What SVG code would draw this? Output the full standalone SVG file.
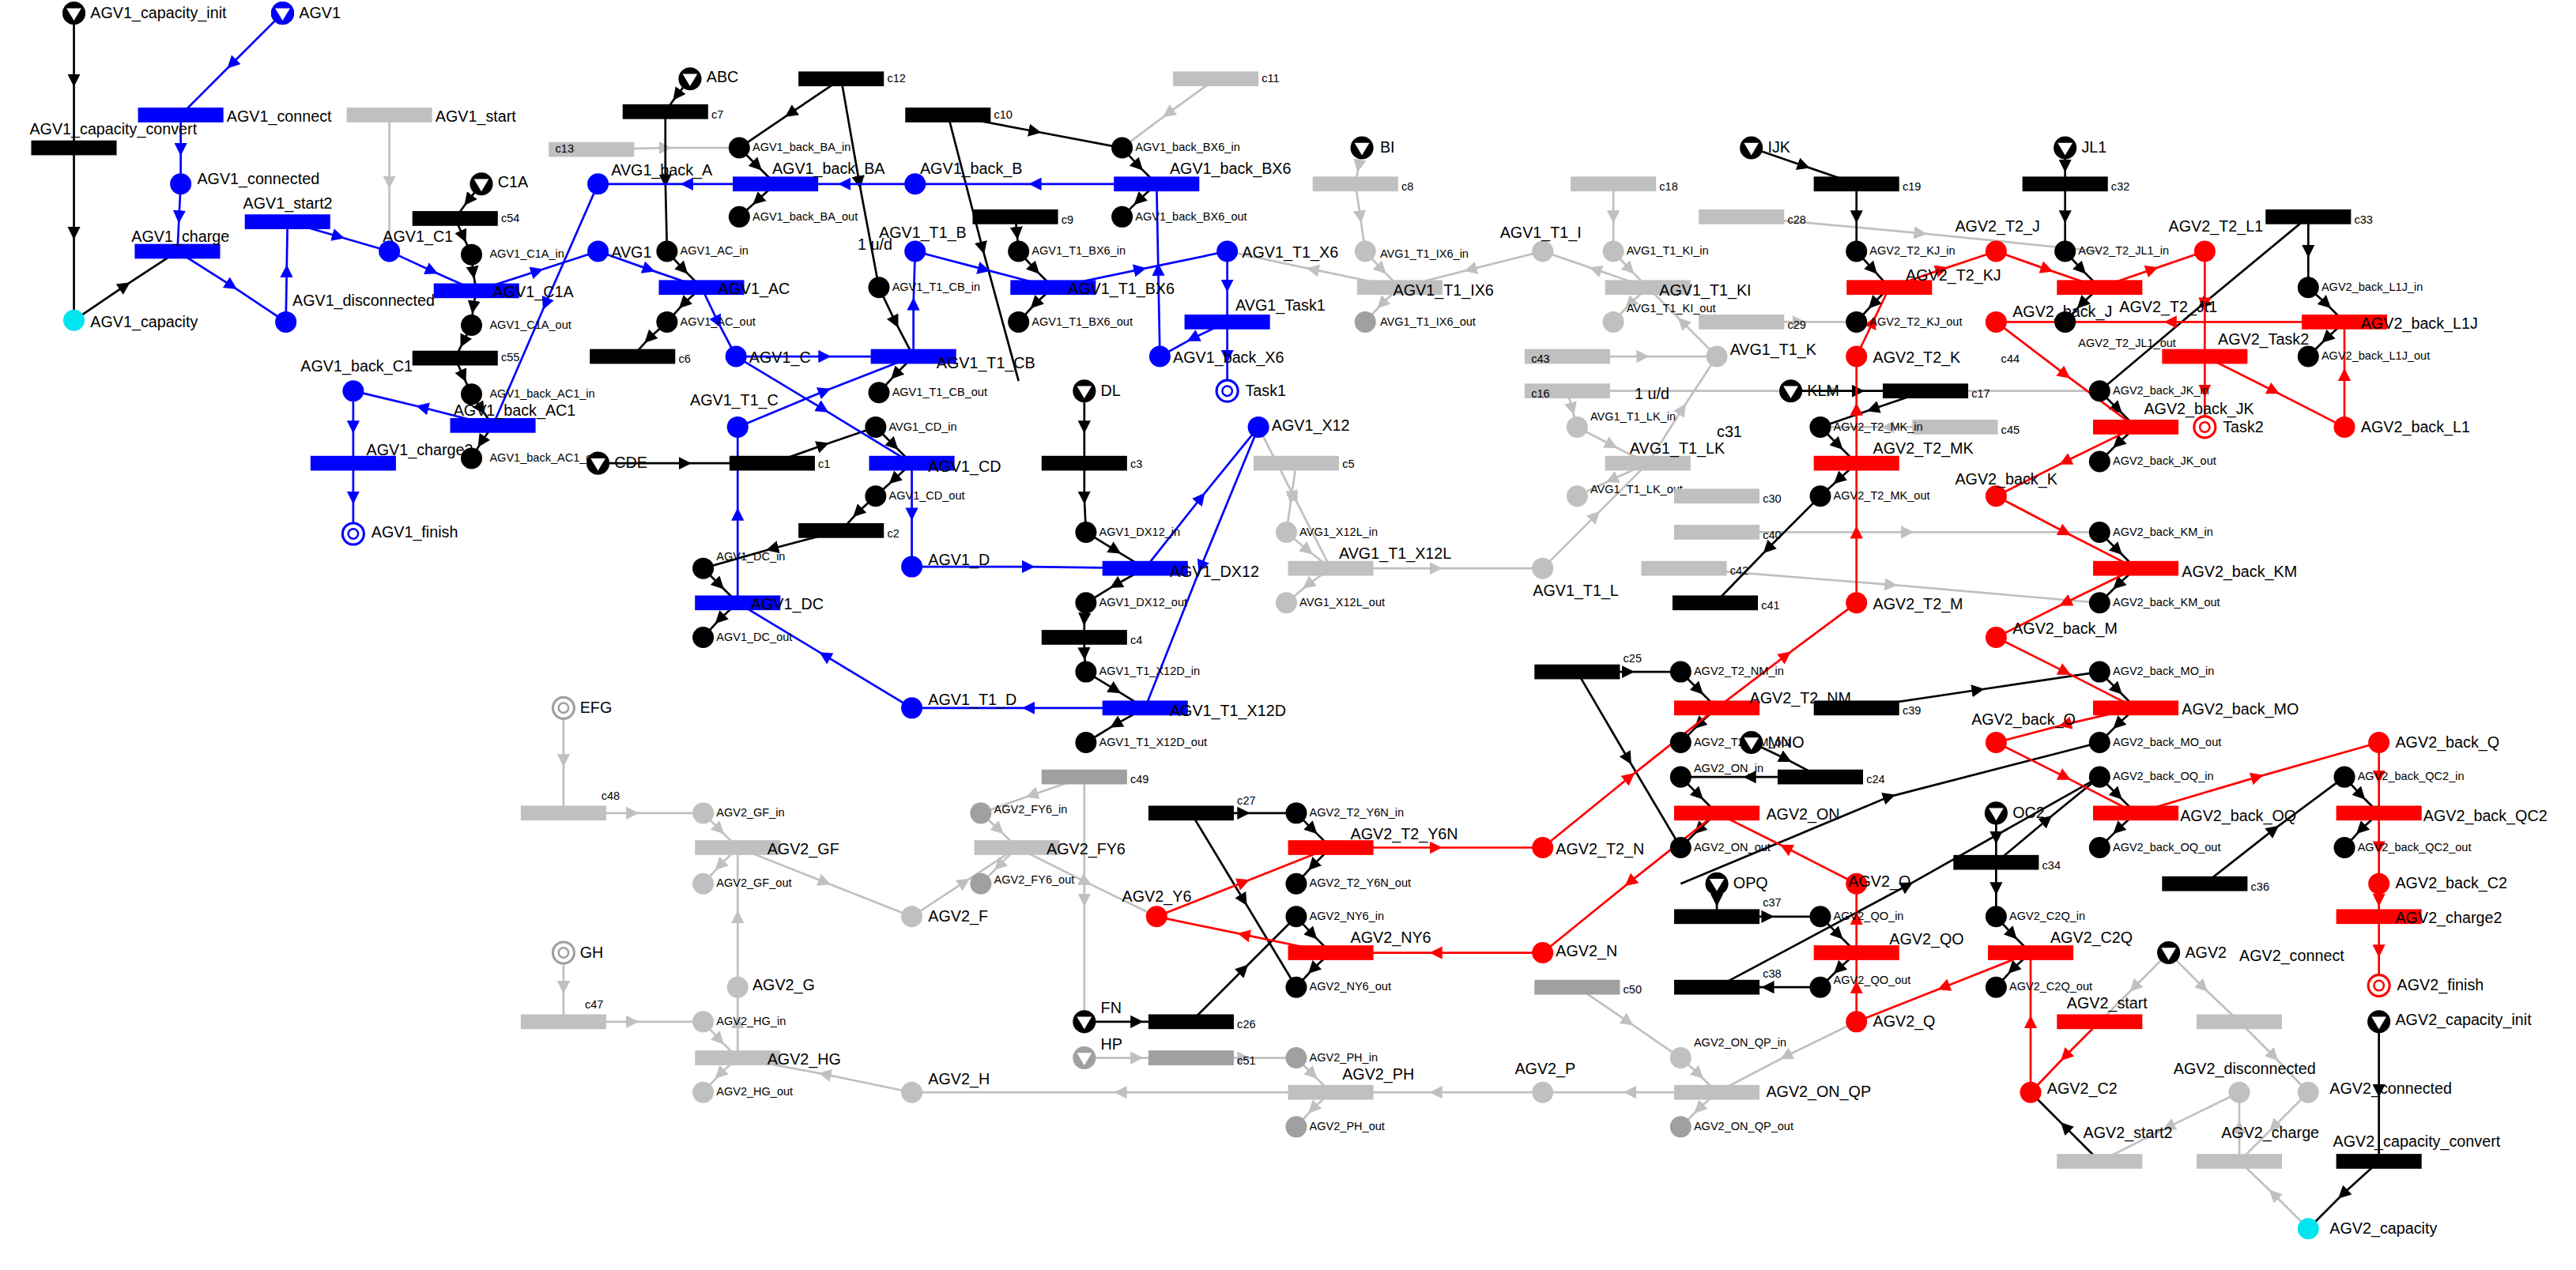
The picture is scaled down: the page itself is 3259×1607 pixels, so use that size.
<svg xmlns="http://www.w3.org/2000/svg" xmlns:xlink="http://www.w3.org/1999/xlink" width="3259" height="1607" viewBox="0 0 3259 1607">
<style>
text{font-family:"Liberation Sans",Arial,sans-serif;font-size:9.5px;fill:#000}
text.s{font-size:7px}
.tb{fill:#0000ff}.tr{fill:#ff0000}.tk{fill:#000}.tg{fill:#c0c0c0}.td{fill:#a0a0a0}.tc{fill:#00e5ee}
.cb path{stroke:#0000ff;marker-mid:url(#ab)}
.cr path{stroke:#ff0000;marker-mid:url(#ar)}
.ck path{stroke:#000;marker-mid:url(#ak)}
.cg path{stroke:#c0c0c0;marker-mid:url(#ag)}
#conn path{fill:none;stroke-width:1.3}
</style>
<defs>
<marker id="ab" viewBox="0 0 10 10" refX="5" refY="5" markerWidth="6" markerHeight="6" orient="auto"><path d="M0,0L10,5L0,10z" fill="#0000ff"/></marker>
<marker id="ar" viewBox="0 0 10 10" refX="5" refY="5" markerWidth="6" markerHeight="6" orient="auto"><path d="M0,0L10,5L0,10z" fill="#ff0000"/></marker>
<marker id="ak" viewBox="0 0 10 10" refX="5" refY="5" markerWidth="6" markerHeight="6" orient="auto"><path d="M0,0L10,5L0,10z" fill="#000"/></marker>
<marker id="ag" viewBox="0 0 10 10" refX="5" refY="5" markerWidth="6" markerHeight="6" orient="auto"><path d="M0,0L10,5L0,10z" fill="#c0c0c0"/></marker>
<circle id="P" r="6.5"/>
<rect id="T" x="-26" y="-4.5" width="52" height="9"/>
<g id="S"><circle r="7" fill="#000"/><path d="M-4.5,-3L4.5,-3L0,4.5z" fill="#fff"/></g>
<g id="SG"><circle r="7" fill="#a0a0a0"/><path d="M-4.5,-3L4.5,-3L0,4.5z" fill="#fff"/></g>
<g id="F"><circle r="6.5" fill="#fff" stroke-width="1.5"/><circle r="3" fill="#fff" stroke-width="1.2"/></g>
</defs>
<rect width="3259" height="1607" fill="#fff"/>
<g transform="scale(2.0785)">
<g id="conn">
<g class="cg">
<path d="M237,70L237,111L237,153"/><path d="M740,48L711,69L683,90"/><path d="M829,90L827,101L825,112"/><path d="M825,112L828,132L831,153"/>
<path d="M831,153L841,164L852,175"/><path d="M852,175L841,185L831,196"/><path d="M939,153L895,164L852,175"/><path d="M852,175L799,164L747,153"/>
<path d="M1045,217L1024,196L1003,175"/><path d="M1003,175L971,164L939,153"/><path d="M982,112L982,132L982,153"/><path d="M982,153L992,164L1003,175"/><path d="M1003,175L992,185L982,196"/>
<path d="M939,346L971,314L1003,282"/><path d="M1003,282L1024,249L1045,217"/><path d="M954,238L957,249L960,260"/><path d="M960,260L981,271L1003,282"/><path d="M1003,282L981,292L960,302"/>
<path d="M766,260L788,303L810,346"/><path d="M810,346L874,346L939,346"/><path d="M789,282L786,303L783,324"/><path d="M783,324L796,335L810,346"/><path d="M810,346L796,356L783,367"/>
<path d="M1045,324L1161,324L1278,324"/><path d="M1025,346L1151,356L1278,367"/><path d="M954,238L1116,238L1278,238"/><path d="M1060,132L1169,142L1278,153"/><path d="M1060,196L1095,196L1130,196"/><path d="M954,217L1000,217L1045,217"/><path d="M1190,260L1149,260L1108,260"/><path d="M360,91L405,90L450,90"/>
<path d="M343,431L343,463L343,495"/><path d="M343,495L385,495L428,495"/><path d="M428,495L438,505L449,516"/><path d="M449,516L438,527L428,538"/>
<path d="M343,580L343,601L343,622"/><path d="M343,622L385,622L428,622"/><path d="M428,622L438,633L449,644"/><path d="M449,644L438,654L428,665"/>
<path d="M449,601L449,558L449,516"/><path d="M449,516L502,537L555,558"/><path d="M555,558L587,537L619,516"/><path d="M619,516L661,537L704,558"/><path d="M555,665L502,654L449,644"/><path d="M449,644L449,622L449,601"/>
<path d="M810,665L682,665L555,665"/><path d="M939,665L874,665L810,665"/><path d="M1045,665L992,665L939,665"/><path d="M1130,622L1087,643L1045,665"/>
<path d="M660,473L628,484L597,495"/><path d="M597,495L608,505L619,516"/><path d="M619,516L608,527L597,538"/><path d="M660,473L660,548L660,622"/>
<path d="M660,644L692,644L725,644"/><path d="M725,644L757,644L789,644"/><path d="M789,644L799,654L810,665"/><path d="M810,665L799,675L789,686"/>
<path d="M960,601L991,622L1023,644"/><path d="M1023,644L1034,654L1045,665"/><path d="M1045,665L1034,675L1023,686"/>
<path d="M1320,580L1341,601L1363,622"/><path d="M1363,622L1384,643L1405,665"/><path d="M1405,665L1384,686L1363,707"/><path d="M1363,707L1363,686L1363,665"/><path d="M1363,665L1320,686L1278,707"/><path d="M1405,748L1384,727L1363,707"/><path d="M1320,580L1299,601L1278,622"/>
</g>
<g class="ck">
<path d="M45,8L45,49L45,90"/><path d="M45,90L45,142L45,195"/><path d="M45,195L76,174L108,153"/>
<path d="M293,112L285,122L277,133"/><path d="M277,133L282,144L287,155"/><path d="M287,155L288,166L290,177"/><path d="M290,177L288,187L287,198"/><path d="M287,198L282,208L277,218"/><path d="M277,218L282,229L287,240"/><path d="M287,240L293,249L300,259"/><path d="M300,259L293,269L287,279"/>
<path d="M420,48L412,58L405,68"/><path d="M405,68L405,110L406,153"/><path d="M406,153L416,164L427,175"/><path d="M427,175L416,185L406,196"/><path d="M406,196L395,206L385,217"/>
<path d="M512,48L481,69L450,90"/><path d="M450,90L461,101L472,112"/><path d="M472,112L461,122L450,132"/><path d="M512,48L523,111L535,175"/>
<path d="M577,70L630,80L683,90"/><path d="M683,90L693,101L704,112"/><path d="M704,112L693,122L683,132"/><path d="M577,70L598,151L620,232"/><path d="M618,132L619,142L620,153"/><path d="M620,153L630,164L641,175"/><path d="M641,175L630,185L620,196"/>
<path d="M535,175L545,196L556,217"/><path d="M556,217L545,228L535,239"/>
<path d="M364,282L417,282L470,282"/><path d="M470,282L501,271L533,260"/><path d="M533,260L544,271L555,282"/><path d="M555,282L544,292L533,302"/><path d="M533,302L522,312L512,323"/><path d="M512,323L470,334L428,346"/><path d="M428,346L438,356L449,367"/><path d="M449,367L438,377L428,388"/>
<path d="M660,238L660,260L660,282"/><path d="M660,282L660,303L661,324"/><path d="M661,324L679,335L697,346"/><path d="M697,346L679,356L661,367"/><path d="M661,367L660,377L660,388"/><path d="M660,388L660,398L661,409"/><path d="M661,409L679,420L697,431"/><path d="M697,431L679,441L661,452"/>
<path d="M1066,90L1098,101L1130,112"/><path d="M1130,112L1130,132L1130,153"/><path d="M1130,153L1140,164L1150,175"/><path d="M1150,175L1140,185L1130,196"/>
<path d="M1257,90L1257,101L1257,112"/><path d="M1257,112L1257,132L1257,153"/><path d="M1257,153L1267,164L1278,175"/><path d="M1278,175L1267,185L1257,196"/>
<path d="M1405,132L1405,153L1405,175"/><path d="M1405,175L1416,185L1427,196"/><path d="M1427,196L1416,206L1405,217"/><path d="M1405,132L1341,185L1278,238"/>
<path d="M1090,238L1131,238L1172,238"/><path d="M1172,238L1140,249L1108,260"/><path d="M1108,260L1119,271L1130,282"/><path d="M1130,282L1119,292L1108,302"/><path d="M1108,302L1076,334L1044,367"/>
<path d="M960,409L991,409L1023,409"/><path d="M1023,409L1034,420L1045,431"/><path d="M1045,431L1034,441L1023,452"/><path d="M960,409L991,462L1023,516"/>
<path d="M1066,452L1087,462L1108,473"/><path d="M1108,473L1065,473L1023,473"/><path d="M1023,473L1034,484L1045,495"/><path d="M1045,495L1034,505L1023,516"/>
<path d="M1130,431L1204,420L1278,409"/><path d="M1278,409L1289,420L1300,431"/><path d="M1300,431L1289,441L1278,452"/>
<path d="M1278,324L1289,335L1300,346"/><path d="M1300,346L1289,356L1278,367"/><path d="M1278,238L1289,249L1300,260"/><path d="M1300,260L1289,270L1278,281"/>
<path d="M1278,473L1289,484L1300,495"/><path d="M1300,495L1289,505L1278,516"/><path d="M1427,473L1437,484L1448,495"/><path d="M1448,495L1437,505L1427,516"/>
<path d="M1215,495L1215,510L1215,525"/><path d="M1215,525L1215,541L1215,558"/><path d="M1215,558L1225,569L1236,580"/><path d="M1236,580L1225,590L1215,601"/>
<path d="M1045,538L1045,548L1045,558"/><path d="M1045,558L1076,558L1108,558"/><path d="M1108,558L1119,569L1130,580"/><path d="M1130,580L1119,590L1108,601"/><path d="M1108,601L1076,601L1045,601"/>
<path d="M1342,538L1384,505L1427,473"/><path d="M1215,525L1246,499L1278,473"/><path d="M1045,601L1161,539L1278,473"/><path d="M1023,538L1150,485L1278,452"/>
<path d="M1448,622L1448,664L1448,707"/><path d="M1448,707L1426,727L1405,748"/><path d="M1278,707L1257,686L1236,665"/>
<path d="M725,495L757,495L789,495"/><path d="M789,495L799,505L810,516"/><path d="M810,516L799,527L789,538"/><path d="M725,495L757,548L789,601"/>
<path d="M660,622L692,622L725,622"/><path d="M725,622L757,590L789,558"/><path d="M789,558L799,569L810,580"/><path d="M810,580L799,590L789,601"/>
</g>
<g class="cb">
<path d="M172,8L141,39L110,70"/><path d="M110,70L110,91L110,112"/><path d="M110,112L109,132L108,153"/><path d="M108,153L141,174L174,196"/><path d="M174,196L174.5,165L175,135"/><path d="M175,135L206,144L237,153"/><path d="M237,153L263,165L290,177"/><path d="M290,177L327,165L364,153"/><path d="M364,112L332,185L300,259"/><path d="M300,259L257,248L215,238"/><path d="M215,238L215,260L215,282"/><path d="M215,282L215,303L215,325"/>
<path d="M364,153L395,164L427,175"/><path d="M427,175L437,196L448,217"/><path d="M448,217L502,217L556,217"/><path d="M556,217L556,185L557,153"/><path d="M557,153L599,164L641,175"/><path d="M641,175L694,164L747,153"/><path d="M747,153L747,174L747,196"/><path d="M747,196L747,217L747,238"/><path d="M747,196L726,206L706,217"/>
<path d="M706,217L705,164L704,112"/><path d="M704,112L630,112L557,112"/><path d="M557,112L514,112L472,112"/><path d="M472,112L418,112L364,112"/>
<path d="M448,217L501,249L555,282"/><path d="M555,282L555,313L555,345"/><path d="M555,345L626,345L697,346"/><path d="M697,346L731,303L766,260"/><path d="M766,260L731,345L697,431"/><path d="M697,431L626,431L555,431"/><path d="M555,431L502,399L449,367"/><path d="M449,367L449,313L449,260"/><path d="M449,260L502,238L556,217"/>
</g>
<g class="cr">
<path d="M1150,175L1182,164L1215,153"/><path d="M1215,153L1246,164L1278,175"/><path d="M1278,175L1310,164L1342,153"/><path d="M1342,153L1342,185L1342,217"/><path d="M1342,217L1342,238L1342,260"/><path d="M1342,217L1384,238L1427,260"/>
<path d="M1427,260L1427,228L1427,196"/><path d="M1427,196L1321,196L1215,196"/><path d="M1215,196L1257,228L1300,260"/><path d="M1300,260L1257,281L1215,302"/><path d="M1215,302L1257,324L1300,346"/><path d="M1300,346L1257,367L1215,388"/><path d="M1215,388L1257,409L1300,431"/><path d="M1300,431L1257,441L1215,452"/><path d="M1215,452L1257,473L1300,495"/><path d="M1300,495L1374,473L1448,452"/><path d="M1448,452L1448,473L1448,495"/><path d="M1448,495L1448,516L1448,538"/><path d="M1448,538L1448,548L1448,558"/><path d="M1448,558L1448,579L1448,600"/>
<path d="M1130,217L1140,196L1150,175"/><path d="M1130,282L1130,249L1130,217"/><path d="M1130,367L1130,324L1130,282"/><path d="M1045,431L1087,399L1130,367"/><path d="M939,516L992,473L1045,431"/><path d="M810,516L874,516L939,516"/><path d="M704,558L757,537L810,516"/><path d="M810,580L757,569L704,558"/><path d="M939,580L874,580L810,580"/><path d="M1045,495L992,537L939,580"/><path d="M1130,538L1087,516L1045,495"/>
<path d="M1130,622L1130,601L1130,580"/><path d="M1130,580L1130,559L1130,538"/><path d="M1236,580L1183,601L1130,622"/><path d="M1236,665L1236,622L1236,580"/><path d="M1278,622L1257,643L1236,665"/>
</g>
</g>

<g id="AGV1_capacity_init"><use href="#S" x="45" y="8"/><text x="55" y="11">AGV1_capacity_init</text></g>
<g id="AGV1"><use href="#S" x="172" y="8" fill="#00f"/><circle cx="172" cy="8" r="7" fill="#00f"/><path d="M167.5,5L176.5,5L172,12.5z" fill="#fff"/><text x="182" y="11">AGV1</text></g>
<g id="AGV1_capacity_convert"><use href="#T" x="45" y="90" class="tk"/><text x="18" y="82">AGV1_capacity_convert</text></g>
<g id="AGV1_capacity"><use href="#P" x="45" y="195" class="tc"/><text x="55" y="199">AGV1_capacity</text></g>
<g id="AGV1_connect"><use href="#T" x="110" y="70" class="tb"/><text x="138" y="74">AGV1_connect</text></g>
<g id="AGV1_start"><use href="#T" x="237" y="70" class="tg"/><text x="265" y="74">AGV1_start</text></g>
<g id="AGV1_connected"><use href="#P" x="110" y="112" class="tb"/><text x="120" y="112">AGV1_connected</text></g>
<g id="AGV1_charge"><use href="#T" x="108" y="153" class="tb"/><text x="80" y="147">AGV1_charge</text></g>
<g id="AGV1_start2"><use href="#T" x="175" y="135" class="tb"/><text x="148" y="127">AGV1_start2</text></g>
<g id="AGV1_disconnected"><use href="#P" x="174" y="196" class="tb"/><text x="178" y="186">AGV1_disconnected</text></g>
<g id="AGV1_C1"><use href="#P" x="237" y="153" class="tb"/><text x="233" y="147">AGV1_C1</text></g>
<g id="C1A"><use href="#S" x="293" y="112"/><text x="303" y="114">C1A</text></g>
<g id="c54"><use href="#T" x="277" y="133" class="tk"/><text x="305" y="135" class="s">c54</text></g>
<g id="AGV1_C1A_in"><use href="#P" x="287" y="155" class="tk"/><text x="298" y="157" class="s">AGV1_C1A_in</text></g>
<g id="AGV1_C1A"><use href="#T" x="290" y="177" class="tb"/><text x="300" y="181">AGV1_C1A</text></g>
<g id="AGV1_C1A_out"><use href="#P" x="287" y="198" class="tk"/><text x="298" y="200" class="s">AGV1_C1A_out</text></g>
<g id="c55"><use href="#T" x="277" y="218" class="tk"/><text x="305" y="220" class="s">c55</text></g>
<g id="AGV1_back_AC1_in"><use href="#P" x="287" y="240" class="tk"/><text x="298" y="242" class="s">AGV1_back_AC1_in</text></g>
<g id="AGV1_back_AC1"><use href="#T" x="300" y="259" class="tb"/><text x="276" y="253">AGV1_back_AC1</text></g>
<g id="AGV1_back_AC1_out"><use href="#P" x="287" y="279" class="tk"/><text x="298" y="281" class="s">AGV1_back_AC1_out</text></g>
<g id="AGV1_back_C1"><use href="#P" x="215" y="238" class="tb"/><text x="183" y="226">AGV1_back_C1</text></g>
<g id="AGV1_charge2"><use href="#T" x="215" y="282" class="tb"/><text x="223" y="277">AGV1_charge2</text></g>
<g id="AGV1_finish"><use href="#F" x="215" y="325" stroke="#00f"/><text x="226" y="327">AGV1_finish</text></g>
<g id="AGV1_back_A"><use href="#P" x="364" y="112" class="tb"/><text x="372" y="107">AVG1_back_A</text></g>
<g id="ABC"><use href="#S" x="420" y="48"/><text x="430" y="50">ABC</text></g>
<g id="c7"><use href="#T" x="405" y="68" class="tk"/><text x="433" y="72" class="s">c7</text></g>
<g id="c13"><use href="#T" x="360" y="91" class="tg"/><text x="338" y="93" class="s">c13</text></g>
<g id="AGV1_back_BA_in"><use href="#P" x="450" y="90" class="tk"/><text x="458" y="92" class="s">AGV1_back_BA_in</text></g>
<g id="AGV1_back_BA"><use href="#T" x="472" y="112" class="tb"/><text x="470" y="106">AGV1_back_BA</text></g>
<g id="AGV1_back_BA_out"><use href="#P" x="450" y="132" class="tk"/><text x="458" y="134" class="s">AGV1_back_BA_out</text></g>
<g id="c12"><use href="#T" x="512" y="48" class="tk"/><text x="540" y="50" class="s">c12</text></g>
<g id="AGV1_A"><use href="#P" x="364" y="153" class="tb"/><text x="372" y="157">AVG1</text></g>
<g id="AGV1_AC_in"><use href="#P" x="406" y="153" class="tk"/><text x="414" y="155" class="s">AGV1_AC_in</text></g>
<g id="AGV1_AC"><use href="#T" x="427" y="175" class="tb"/><text x="437" y="179">AGV1_AC</text></g>
<g id="AGV1_AC_out"><use href="#P" x="406" y="196" class="tk"/><text x="414" y="198" class="s">AGV1_AC_out</text></g>
<g id="c6"><use href="#T" x="385" y="217" class="tk"/><text x="413" y="221" class="s">c6</text></g>
<g id="AGV1_C"><use href="#P" x="448" y="217" class="tb"/><text x="456" y="221">AGV1_C</text></g>
<g id="AGV1_T1_C"><use href="#P" x="449" y="260" class="tb"/><text x="420" y="247">AGV1_T1_C</text></g>
<g id="c10"><use href="#T" x="577" y="70" class="tk"/><text x="605" y="72" class="s">c10</text></g>
<g id="AGV1_back_B"><use href="#P" x="557" y="112" class="tb"/><text x="560" y="106">AGV1_back_B</text></g>
<g id="c9"><use href="#T" x="618" y="132" class="tk"/><text x="646" y="136" class="s">c9</text></g>
<g id="c11"><use href="#T" x="740" y="48" class="tg"/><text x="768" y="50" class="s">c11</text></g>
<g id="AGV1_back_BX6_in"><use href="#P" x="683" y="90" class="tk"/><text x="691" y="92" class="s">AGV1_back_BX6_in</text></g>
<g id="AGV1_back_BX6"><use href="#T" x="704" y="112" class="tb"/><text x="712" y="106">AGV1_back_BX6</text></g>
<g id="AGV1_back_BX6_out"><use href="#P" x="683" y="132" class="tk"/><text x="691" y="134" class="s">AGV1_back_BX6_out</text></g>
<g id="BI"><use href="#S" x="829" y="90"/><text x="840" y="93">BI</text></g>
<g id="c8"><use href="#T" x="825" y="112" class="tg"/><text x="853" y="116" class="s">c8</text></g>
<g id="AGV1_T1_B"><use href="#P" x="557" y="153" class="tb"/><text x="535" y="145">AGV1_T1_B</text><text x="522" y="152">1 u/d</text></g>
<g id="AGV1_T1_CB_in"><use href="#P" x="535" y="175" class="tk"/><text x="543" y="177" class="s">AGV1_T1_CB_in</text></g>
<g id="AGV1_T1_CB"><use href="#T" x="556" y="217" class="tb"/><text x="570" y="224">AGV1_T1_CB</text></g>
<g id="AGV1_T1_CB_out"><use href="#P" x="535" y="239" class="tk"/><text x="543" y="241" class="s">AGV1_T1_CB_out</text></g>
<g id="AGV1_T1_BX6_in"><use href="#P" x="620" y="153" class="tk"/><text x="628" y="155" class="s">AGV1_T1_BX6_in</text></g>
<g id="AGV1_T1_BX6"><use href="#T" x="641" y="175" class="tb"/><text x="650" y="179">AGV1_T1_BX6</text></g>
<g id="AGV1_T1_BX6_out"><use href="#P" x="620" y="196" class="tk"/><text x="628" y="198" class="s">AGV1_T1_BX6_out</text></g>
<g id="AGV1_T1_X6"><use href="#P" x="747" y="153" class="tb"/><text x="756" y="157">AGV1_T1_X6</text></g>
<g id="AGV1_Task1"><use href="#T" x="747" y="196" class="tb"/><text x="752" y="189">AVG1_Task1</text></g>
<g id="AGV1_back_X6"><use href="#P" x="706" y="217" class="tb"/><text x="714" y="221">AGV1_back_X6</text></g>
<g id="Task1"><use href="#F" x="747" y="238" stroke="#00f"/><text x="758" y="241">Task1</text></g>
<g id="AGV1_CD_in"><use href="#P" x="533" y="260" class="tk"/><text x="541" y="262" class="s">AVG1_CD_in</text></g>
<g id="AGV1_CD"><use href="#T" x="555" y="282" class="tb"/><text x="565" y="287">AGV1_CD</text></g>
<g id="AGV1_CD_out"><use href="#P" x="533" y="302" class="tk"/><text x="541" y="304" class="s">AGV1_CD_out</text></g>
<g id="CDE"><use href="#S" x="364" y="282"/><text x="374" y="285">CDE</text></g>
<g id="c1"><use href="#T" x="470" y="282" class="tk"/><text x="498" y="285" class="s">c1</text></g>
<g id="c2"><use href="#T" x="512" y="323" class="tk"/><text x="540" y="327" class="s">c2</text></g>
<g id="AGV1_DC_in"><use href="#P" x="428" y="346" class="tk"/><text x="436" y="341" class="s">AGV1_DC_in</text></g>
<g id="AGV1_DC"><use href="#T" x="449" y="367" class="tb"/><text x="457" y="371">AGV1_DC</text></g>
<g id="AGV1_DC_out"><use href="#P" x="428" y="388" class="tk"/><text x="436" y="390" class="s">AGV1_DC_out</text></g>
<g id="DL"><use href="#S" x="660" y="238"/><text x="670" y="241">DL</text></g>
<g id="c3"><use href="#T" x="660" y="282" class="tk"/><text x="688" y="285" class="s">c3</text></g>
<g id="AGV1_DX12_in"><use href="#P" x="661" y="324" class="tk"/><text x="669" y="326" class="s">AGV1_DX12_in</text></g>
<g id="AGV1_DX12"><use href="#T" x="697" y="346" class="tb"/><text x="712" y="351">AGV1_DX12</text></g>
<g id="AGV1_DX12_out"><use href="#P" x="661" y="367" class="tk"/><text x="669" y="369" class="s">AGV1_DX12_out</text></g>
<g id="AGV1_D"><use href="#P" x="555" y="345" class="tb"/><text x="565" y="344">AGV1_D</text></g>
<g id="c4"><use href="#T" x="660" y="388" class="tk"/><text x="688" y="392" class="s">c4</text></g>
<g id="AGV1_T1_X12D_in"><use href="#P" x="661" y="409" class="tk"/><text x="669" y="411" class="s">AGV1_T1_X12D_in</text></g>
<g id="AGV1_T1_X12D"><use href="#T" x="697" y="431" class="tb"/><text x="712" y="436">AGV1_T1_X12D</text></g>
<g id="AGV1_T1_X12D_out"><use href="#P" x="661" y="452" class="tk"/><text x="669" y="454" class="s">AGV1_T1_X12D_out</text></g>
<g id="AGV1_T1_D"><use href="#P" x="555" y="431" class="tb"/><text x="565" y="429">AGV1_T1_D</text></g>
<g id="AGV1_X12"><use href="#P" x="766" y="260" class="tb"/><text x="774" y="262">AGV1_X12</text></g>
<g id="c5"><use href="#T" x="789" y="282" class="tg"/><text x="817" y="285" class="s">c5</text></g>
<g id="AGV1_X12L_in"><use href="#P" x="783" y="324" class="tg"/><text x="791" y="326" class="s">AVG1_X12L_in</text></g>
<g id="AGV1_T1_X12L"><use href="#T" x="810" y="346" class="tg"/><text x="815" y="340">AVG1_T1_X12L</text></g>
<g id="AGV1_X12L_out"><use href="#P" x="783" y="367" class="tg"/><text x="791" y="369" class="s">AVG1_X12L_out</text></g>
<g id="AGV1_T1_L"><use href="#P" x="939" y="346" class="tg"/><text x="933" y="363">AGV1_T1_L</text></g>
<g id="AGV1_T1_IX6_in"><use href="#P" x="831" y="153" class="tg"/><text x="840" y="157" class="s">AVG1_T1_IX6_in</text></g>
<g id="AGV1_T1_IX6"><use href="#T" x="852" y="175" class="tg"/><text x="848" y="180">AGV1_T1_IX6</text></g>
<g id="AGV1_T1_IX6_out"><use href="#P" x="831" y="196" class="td"/><text x="840" y="198" class="s">AVG1_T1_IX6_out</text></g>
<g id="AGV1_T1_I"><use href="#P" x="939" y="153" class="tg"/><text x="913" y="145">AGV1_T1_I</text></g>
<g id="c18"><use href="#T" x="982" y="112" class="tg"/><text x="1010" y="116" class="s">c18</text></g>
<g id="IJK"><use href="#S" x="1066" y="90"/><text x="1076" y="93">IJK</text></g>
<g id="c19"><use href="#T" x="1130" y="112" class="tk"/><text x="1158" y="116" class="s">c19</text></g>
<g id="c28"><use href="#T" x="1060" y="132" class="tg"/><text x="1088" y="136" class="s">c28</text></g>
<g id="AGV1_T1_KI_in"><use href="#P" x="982" y="153" class="tg"/><text x="990" y="155" class="s">AVG1_T1_KI_in</text></g>
<g id="AGV1_T1_KI"><use href="#T" x="1003" y="175" class="tg"/><text x="1010" y="180">AGV1_T1_KI</text></g>
<g id="AGV1_T1_KI_out"><use href="#P" x="982" y="196" class="tg"/><text x="990" y="190" class="s">AVG1_T1_KI_out</text></g>
<g id="c29"><use href="#T" x="1060" y="196" class="tg"/><text x="1088" y="200" class="s">c29</text></g>
<g id="c43"><use href="#T" x="954" y="217" class="tg"/><text x="932" y="221" class="s">c43</text></g>
<g id="AGV1_T1_K"><use href="#P" x="1045" y="217" class="tg"/><text x="1053" y="216">AVG1_T1_K</text></g>
<g id="c16"><use href="#T" x="954" y="238" class="tg"/><text x="932" y="242" class="s">c16</text><text x="995" y="243">1 u/d</text></g>
<g id="AGV1_T1_LK_in"><use href="#P" x="960" y="260" class="tg"/><text x="968" y="256" class="s">AVG1_T1_LK_in</text></g>
<g id="AGV1_T1_LK"><use href="#T" x="1003" y="282" class="tg"/><text x="992" y="276">AVG1_T1_LK</text></g>
<g id="AGV1_T1_LK_out"><use href="#P" x="960" y="302" class="tg"/><text x="968" y="300" class="s">AVG1_T1_LK_out</text></g>
<g id="c31"><text x="1045" y="266">c31</text></g>
<g id="c30"><use href="#T" x="1045" y="302" class="tg"/><text x="1073" y="306" class="s">c30</text></g>
<g id="c40"><use href="#T" x="1045" y="324" class="tg"/><text x="1073" y="328" class="s">c40</text></g>
<g id="c42"><use href="#T" x="1025" y="346" class="tg"/><text x="1053" y="350" class="s">c42</text></g>
<g id="KLM"><use href="#S" x="1090" y="238"/><text x="1100" y="241">KLM</text></g>
<g id="c17"><use href="#T" x="1172" y="238" class="tk"/><text x="1200" y="242" class="s">c17</text></g>
<g id="c41"><use href="#T" x="1044" y="367" class="tk"/><text x="1072" y="371" class="s">c41</text></g>
<g id="c45"><use href="#T" x="1190" y="260" class="tg"/><text x="1218" y="264" class="s">c45</text></g>
<g id="AGV2_T2_KJ_in"><use href="#P" x="1130" y="153" class="tk"/><text x="1138" y="155" class="s">AGV2_T2_KJ_in</text></g>
<g id="AGV2_T2_KJ"><use href="#T" x="1150" y="175" class="tr"/><text x="1160" y="171">AGV2_T2_KJ</text></g>
<g id="AGV2_T2_KJ_out"><use href="#P" x="1130" y="196" class="tk"/><text x="1138" y="198" class="s">AGV2_T2_KJ_out</text></g>
<g id="AGV2_T2_J"><use href="#P" x="1215" y="153" class="tr"/><text x="1190" y="141">AGV2_T2_J</text></g>
<g id="JL1"><use href="#S" x="1257" y="90"/><text x="1267" y="93">JL1</text></g>
<g id="c32"><use href="#T" x="1257" y="112" class="tk"/><text x="1285" y="116" class="s">c32</text></g>
<g id="AGV2_T2_JL1_in"><use href="#P" x="1257" y="153" class="tk"/><text x="1265" y="155" class="s">AGV2_T2_JL1_in</text></g>
<g id="AGV2_T2_JL1"><use href="#T" x="1278" y="175" class="tr"/><text x="1290" y="190">AGV2_T2_Jt1</text></g>
<g id="AGV2_T2_JL1_out"><use href="#P" x="1257" y="196" class="tk"/><text x="1265" y="211" class="s">AGV2_T2_JL1_out</text></g>
<g id="AGV2_T2_L1"><use href="#P" x="1342" y="153" class="tr"/><text x="1320" y="141">AGV2_T2_L1</text></g>
<g id="c33"><use href="#T" x="1405" y="132" class="tk"/><text x="1433" y="136" class="s">c33</text></g>
<g id="AGV2_back_L1J_in"><use href="#P" x="1405" y="175" class="tk"/><text x="1413" y="177" class="s">AGV2_back_L1J_in</text></g>
<g id="AGV2_back_L1J"><use href="#T" x="1427" y="196" class="tr"/><text x="1437" y="200">AGV2_back_L1J</text></g>
<g id="AGV2_back_L1J_out"><use href="#P" x="1405" y="217" class="tk"/><text x="1413" y="219" class="s">AGV2_back_L1J_out</text></g>
<g id="AGV2_back_J"><use href="#P" x="1215" y="196" class="tr"/><text x="1225" y="193">AGV2_back_J</text></g>
<g id="AGV2_Task2"><use href="#T" x="1342" y="217" class="tr"/><text x="1350" y="210">AGV2_Task2</text></g>
<g id="Task2"><use href="#F" x="1342" y="260" stroke="#f00"/><text x="1353" y="263">Task2</text></g>
<g id="AGV2_back_L1"><use href="#P" x="1427" y="260" class="tr"/><text x="1437" y="263">AGV2_back_L1</text></g>
<g id="AGV2_T2_K"><use href="#P" x="1130" y="217" class="tr"/><text x="1140" y="221">AGV2_T2_K</text><text x="1218" y="221" class="s">c44</text></g>
<g id="AGV2_back_JK_in"><use href="#P" x="1278" y="238" class="tk"/><text x="1286" y="240" class="s">AGV2_back_JK_in</text></g>
<g id="AGV2_back_JK"><use href="#T" x="1300" y="260" class="tr"/><text x="1305" y="252">AGV2_back_JK</text></g>
<g id="AGV2_back_JK_out"><use href="#P" x="1278" y="281" class="tk"/><text x="1286" y="283" class="s">AGV2_back_JK_out</text></g>
<g id="AGV2_T2_MK_in"><use href="#P" x="1108" y="260" class="tk"/><text x="1116" y="262" class="s">AGV2_T2_MK_in</text></g>
<g id="AGV2_T2_MK"><use href="#T" x="1130" y="282" class="tr"/><text x="1140" y="276">AGV2_T2_MK</text></g>
<g id="AGV2_T2_MK_out"><use href="#P" x="1108" y="302" class="tk"/><text x="1116" y="304" class="s">AGV2_T2_MK_out</text></g>
<g id="AGV2_back_K"><use href="#P" x="1215" y="302" class="tr"/><text x="1190" y="295">AGV2_back_K</text></g>
<g id="AGV2_back_KM_in"><use href="#P" x="1278" y="324" class="tk"/><text x="1286" y="326" class="s">AGV2_back_KM_in</text></g>
<g id="AGV2_back_KM"><use href="#T" x="1300" y="346" class="tr"/><text x="1328" y="351">AGV2_back_KM</text></g>
<g id="AGV2_back_KM_out"><use href="#P" x="1278" y="367" class="tk"/><text x="1286" y="369" class="s">AGV2_back_KM_out</text></g>
<g id="AGV2_T2_M"><use href="#P" x="1130" y="367" class="tr"/><text x="1140" y="371">AGV2_T2_M</text></g>
<g id="AGV2_back_M"><use href="#P" x="1215" y="388" class="tr"/><text x="1225" y="386">AGV2_back_M</text></g>
<g id="c25"><use href="#T" x="960" y="409" class="tk"/><text x="988" y="403" class="s">c25</text></g>
<g id="AGV2_T2_NM_in"><use href="#P" x="1023" y="409" class="tk"/><text x="1031" y="411" class="s">AGV2_T2_NM_in</text></g>
<g id="AGV2_T2_NM"><use href="#T" x="1045" y="431" class="tr"/><text x="1065" y="428">AGV2_T2_NM</text></g>
<g id="AGV2_T2_NM_out"><use href="#P" x="1023" y="452" class="tk"/><text x="1031" y="454" class="s">AGV2_T2_NM_out</text></g>
<g id="c39"><use href="#T" x="1130" y="431" class="tk"/><text x="1158" y="435" class="s">c39</text></g>
<g id="AGV2_back_MO_in"><use href="#P" x="1278" y="409" class="tk"/><text x="1286" y="411" class="s">AGV2_back_MO_in</text></g>
<g id="AGV2_back_MO"><use href="#T" x="1300" y="431" class="tr"/><text x="1328" y="435">AGV2_back_MO</text></g>
<g id="AGV2_back_MO_out"><use href="#P" x="1278" y="452" class="tk"/><text x="1286" y="454" class="s">AGV2_back_MO_out</text></g>
<g id="AGV2_back_O"><use href="#P" x="1215" y="452" class="tr"/><text x="1200" y="441">AGV2_back_O</text></g>
<g id="MNO"><use href="#S" x="1066" y="452"/><text x="1076" y="455">MNO</text></g>
<g id="c24"><use href="#T" x="1108" y="473" class="tk"/><text x="1136" y="477" class="s">c24</text></g>
<g id="AGV2_ON_in"><use href="#P" x="1023" y="473" class="tk"/><text x="1031" y="470" class="s">AGV2_ON_in</text></g>
<g id="AGV2_ON"><use href="#T" x="1045" y="495" class="tr"/><text x="1075" y="499">AGV2_ON</text></g>
<g id="AGV2_ON_out"><use href="#P" x="1023" y="516" class="tk"/><text x="1031" y="518" class="s">AGV2_ON_out</text></g>
<g id="AGV2_back_OQ_in"><use href="#P" x="1278" y="473" class="tk"/><text x="1286" y="475" class="s">AGV2_back_OQ_in</text></g>
<g id="AGV2_back_OQ"><use href="#T" x="1300" y="495" class="tr"/><text x="1327" y="500">AGV2_back_OQ</text></g>
<g id="AGV2_back_OQ_out"><use href="#P" x="1278" y="516" class="tk"/><text x="1286" y="518" class="s">AGV2_back_OQ_out</text></g>
<g id="AGV2_back_Q"><use href="#P" x="1448" y="452" class="tr"/><text x="1458" y="455">AGV2_back_Q</text></g>
<g id="AGV2_back_QC2_in"><use href="#P" x="1427" y="473" class="tk"/><text x="1435" y="475" class="s">AGV2_back_QC2_in</text></g>
<g id="AGV2_back_QC2"><use href="#T" x="1448" y="495" class="tr"/><text x="1475" y="500">AGV2_back_QC2</text></g>
<g id="AGV2_back_QC2_out"><use href="#P" x="1427" y="516" class="tk"/><text x="1435" y="518" class="s">AGV2_back_QC2_out</text></g>
<g id="AGV2_back_C2"><use href="#P" x="1448" y="538" class="tr"/><text x="1458" y="541">AGV2_back_C2</text></g>
<g id="AGV2_charge2"><use href="#T" x="1448" y="558" class="tr"/><text x="1458" y="562">AGV2_charge2</text></g>
<g id="AGV2_finish"><use href="#F" x="1448" y="600" stroke="#f00"/><text x="1459" y="603">AGV2_finish</text></g>
<g id="OC2"><use href="#S" x="1215" y="495"/><text x="1225" y="498">OC2</text></g>
<g id="c34"><use href="#T" x="1215" y="525" class="tk"/><text x="1243" y="529" class="s">c34</text></g>
<g id="c36"><use href="#T" x="1342" y="538" class="tk"/><text x="1370" y="542" class="s">c36</text></g>
<g id="AGV2_C2Q_in"><use href="#P" x="1215" y="558" class="tk"/><text x="1223" y="560" class="s">AGV2_C2Q_in</text></g>
<g id="AGV2_C2Q"><use href="#T" x="1236" y="580" class="tr"/><text x="1248" y="574">AGV2_C2Q</text></g>
<g id="AGV2_C2Q_out"><use href="#P" x="1215" y="601" class="tk"/><text x="1223" y="603" class="s">AGV2_C2Q_out</text></g>
<g id="AGV2_O"><use href="#P" x="1130" y="538" class="tr"/><text x="1125" y="540">AGV2_O</text></g>
<g id="OPQ"><use href="#S" x="1045" y="538"/><text x="1055" y="541">OPQ</text></g>
<g id="c37"><use href="#T" x="1045" y="558" class="tk"/><text x="1073" y="552" class="s">c37</text></g>
<g id="AGV2_QO_in"><use href="#P" x="1108" y="558" class="tk"/><text x="1116" y="560" class="s">AGV2_QO_in</text></g>
<g id="AGV2_QO"><use href="#T" x="1130" y="580" class="tr"/><text x="1150" y="575">AGV2_QO</text></g>
<g id="AGV2_QO_out"><use href="#P" x="1108" y="601" class="tk"/><text x="1116" y="599" class="s">AGV2_QO_out</text></g>
<g id="c38"><use href="#T" x="1045" y="601" class="tk"/><text x="1073" y="595" class="s">c38</text></g>
<g id="AGV2_Q"><use href="#P" x="1130" y="622" class="tr"/><text x="1140" y="625">AGV2_Q</text></g>
<g id="AGV2_T2_N"><use href="#P" x="939" y="516" class="tr"/><text x="947" y="520">AGV2_T2_N</text></g>
<g id="AGV2_N"><use href="#P" x="939" y="580" class="tr"/><text x="947" y="582">AGV2_N</text></g>
<g id="c50"><use href="#T" x="960" y="601" class="td"/><text x="988" y="605" class="s">c50</text></g>
<g id="AGV2_ON_QP_in"><use href="#P" x="1023" y="644" class="tg"/><text x="1031" y="637" class="s">AGV2_ON_QP_in</text></g>
<g id="AGV2_ON_QP"><use href="#T" x="1045" y="665" class="tg"/><text x="1075" y="668">AGV2_ON_QP</text></g>
<g id="AGV2_ON_QP_out"><use href="#P" x="1023" y="686" class="td"/><text x="1031" y="688" class="s">AGV2_ON_QP_out</text></g>
<g id="AGV2_P"><use href="#P" x="939" y="665" class="tg"/><text x="922" y="654">AGV2_P</text></g>
<g id="AGV2_start"><use href="#T" x="1278" y="622" class="tr"/><text x="1258" y="614">AGV2_start</text></g>
<g id="AGV2"><use href="#S" x="1320" y="580"/><text x="1330" y="583">AGV2</text></g>
<g id="AGV2_connect"><use href="#T" x="1363" y="622" class="tg"/><text x="1363" y="585">AGV2_connect</text></g>
<g id="AGV2_C2"><use href="#P" x="1236" y="665" class="tr"/><text x="1246" y="666">AGV2_C2</text></g>
<g id="AGV2_disconnected"><use href="#P" x="1363" y="665" class="tg"/><text x="1323" y="654">AGV2_disconnected</text></g>
<g id="AGV2_connected"><use href="#P" x="1405" y="665" class="tg"/><text x="1418" y="666">AGV2_connected</text></g>
<g id="AGV2_capacity_init"><use href="#S" x="1448" y="622"/><text x="1458" y="624">AGV2_capacity_init</text></g>
<g id="AGV2_start2"><use href="#T" x="1278" y="707" class="tg"/><text x="1268" y="693">AGV2_start2</text></g>
<g id="AGV2_charge"><use href="#T" x="1363" y="707" class="tg"/><text x="1352" y="693">AGV2_charge</text></g>
<g id="AGV2_capacity_convert"><use href="#T" x="1448" y="707" class="tk"/><text x="1420" y="698">AGV2_capacity_convert</text></g>
<g id="AGV2_capacity"><use href="#P" x="1405" y="748" class="tc"/><text x="1418" y="751">AGV2_capacity</text></g>
<g id="EFG"><use href="#F" x="343" y="431" stroke="#a0a0a0"/><text x="353" y="434">EFG</text></g>
<g id="c48"><use href="#T" x="343" y="495" class="tg"/><text x="366" y="487" class="s">c48</text></g>
<g id="AGV2_GF_in"><use href="#P" x="428" y="495" class="tg"/><text x="436" y="497" class="s">AGV2_GF_in</text></g>
<g id="AGV2_GF"><use href="#T" x="449" y="516" class="tg"/><text x="467" y="520">AGV2_GF</text></g>
<g id="AGV2_GF_out"><use href="#P" x="428" y="538" class="tg"/><text x="436" y="540" class="s">AGV2_GF_out</text></g>
<g id="GH"><use href="#F" x="343" y="580" stroke="#a0a0a0"/><text x="353" y="583">GH</text></g>
<g id="c47"><use href="#T" x="343" y="622" class="tg"/><text x="356" y="614" class="s">c47</text></g>
<g id="AGV2_HG_in"><use href="#P" x="428" y="622" class="tg"/><text x="436" y="624" class="s">AGV2_HG_in</text></g>
<g id="AGV2_HG"><use href="#T" x="449" y="644" class="tg"/><text x="467" y="648">AGV2_HG</text></g>
<g id="AGV2_HG_out"><use href="#P" x="428" y="665" class="tg"/><text x="436" y="667" class="s">AGV2_HG_out</text></g>
<g id="AGV2_G"><use href="#P" x="449" y="601" class="tg"/><text x="458" y="603">AGV2_G</text></g>
<g id="AGV2_F"><use href="#P" x="555" y="558" class="tg"/><text x="565" y="561">AGV2_F</text></g>
<g id="AGV2_H"><use href="#P" x="555" y="665" class="tg"/><text x="565" y="660">AGV2_H</text></g>
<g id="c49"><use href="#T" x="660" y="473" class="td"/><text x="688" y="477" class="s">c49</text></g>
<g id="AGV2_FY6_in"><use href="#P" x="597" y="495" class="td"/><text x="605" y="495" class="s">AGV2_FY6_in</text></g>
<g id="AGV2_FY6"><use href="#T" x="619" y="516" class="tg"/><text x="637" y="520">AGV2_FY6</text></g>
<g id="AGV2_FY6_out"><use href="#P" x="597" y="538" class="td"/><text x="605" y="538" class="s">AGV2_FY6_out</text></g>
<g id="AGV2_Y6"><use href="#P" x="704" y="558" class="tr"/><text x="683" y="549">AGV2_Y6</text></g>
<g id="c27"><use href="#T" x="725" y="495" class="tk"/><text x="753" y="490" class="s">c27</text></g>
<g id="AGV2_T2_Y6N_in"><use href="#P" x="789" y="495" class="tk"/><text x="797" y="497" class="s">AGV2_T2_Y6N_in</text></g>
<g id="AGV2_T2_Y6N"><use href="#T" x="810" y="516" class="tr"/><text x="822" y="511">AGV2_T2_Y6N</text></g>
<g id="AGV2_T2_Y6N_out"><use href="#P" x="789" y="538" class="tk"/><text x="797" y="540" class="s">AGV2_T2_Y6N_out</text></g>
<g id="AGV2_NY6_in"><use href="#P" x="789" y="558" class="tk"/><text x="797" y="560" class="s">AGV2_NY6_in</text></g>
<g id="AGV2_NY6"><use href="#T" x="810" y="580" class="tr"/><text x="822" y="574">AGV2_NY6</text></g>
<g id="AGV2_NY6_out"><use href="#P" x="789" y="601" class="tk"/><text x="797" y="603" class="s">AGV2_NY6_out</text></g>
<g id="FN"><use href="#S" x="660" y="622"/><text x="670" y="617">FN</text></g>
<g id="c26"><use href="#T" x="725" y="622" class="tk"/><text x="753" y="626" class="s">c26</text></g>
<g id="HP"><use href="#SG" x="660" y="644"/><text x="670" y="639">HP</text></g>
<g id="c51"><use href="#T" x="725" y="644" class="td"/><text x="753" y="648" class="s">c51</text></g>
<g id="AGV2_PH_in"><use href="#P" x="789" y="644" class="td"/><text x="797" y="646" class="s">AGV2_PH_in</text></g>
<g id="AGV2_PH"><use href="#T" x="810" y="665" class="tg"/><text x="817" y="657">AGV2_PH</text></g>
<g id="AGV2_PH_out"><use href="#P" x="789" y="686" class="td"/><text x="797" y="688" class="s">AGV2_PH_out</text></g>
</g>
</svg>
